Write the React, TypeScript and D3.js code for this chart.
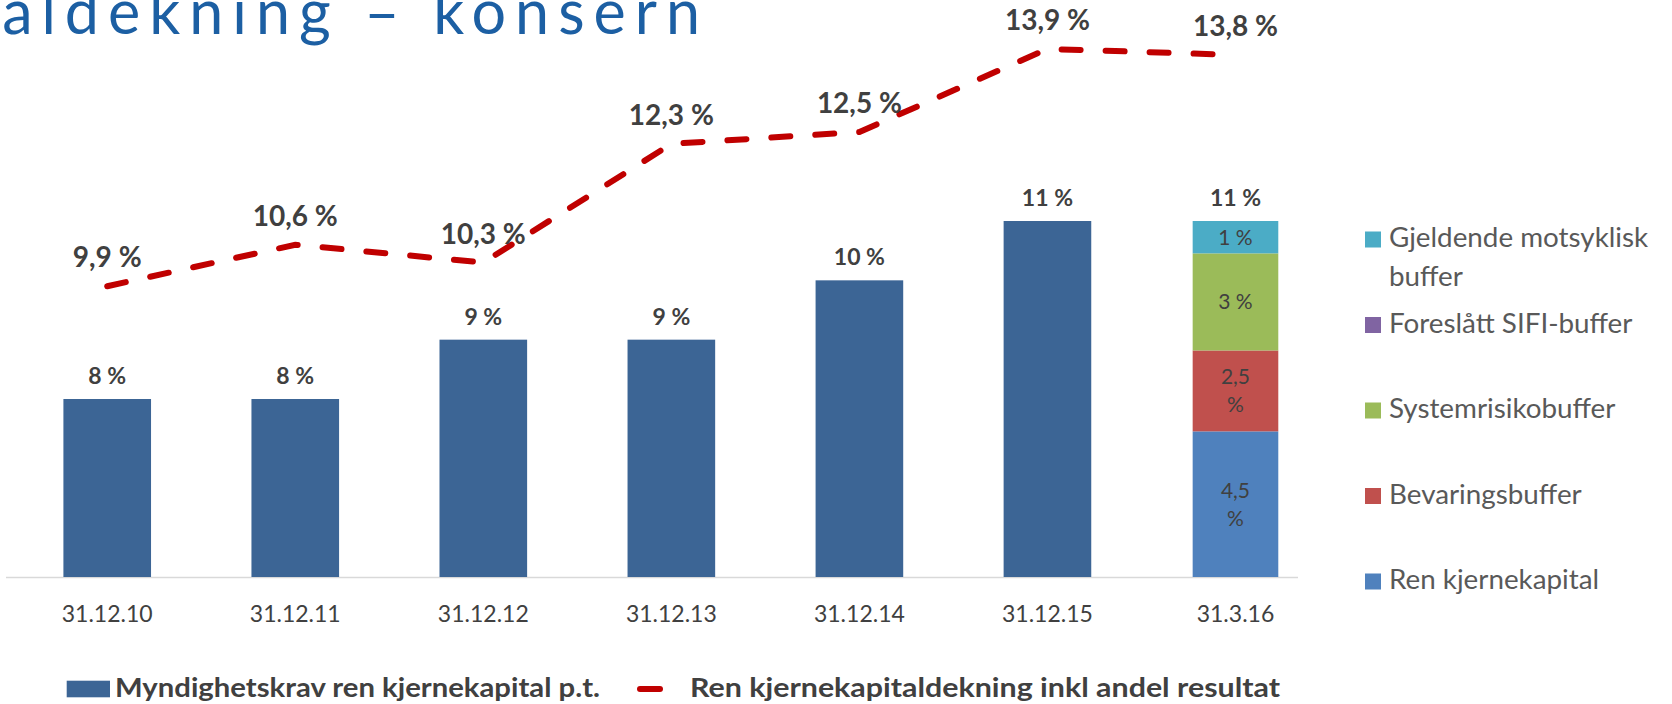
import React from "react";
import * as d3 from "d3";

// ---- Data ----
const categories = ["31.12.10", "31.12.11", "31.12.12", "31.12.13", "31.12.14", "31.12.15", "31.3.16"];
// Myndighetskrav ren kjernekapital p.t. (solid bars, first six periods)
const requirement = [8, 8, 9, 9, 10, 11];
// Ren kjernekapitaldekning inkl andel resultat (dashed line)
const coverage = [9.9, 10.6, 10.3, 12.3, 12.5, 13.9, 13.8];
// Stacked composition for 31.3.16 (bottom to top)
const stackKeys = ["Ren kjernekapital", "Bevaringsbuffer", "Systemrisikobuffer", "Foreslått SIFI-buffer", "Gjeldende motsyklisk buffer"];
const stackValues = [4.5, 2.5, 3, 0, 1];
const stackColors = ["#4F81BD", "#C0504D", "#9BBB59", "#8064A2", "#4BACC6"];
// Right legend order (top to bottom)
const rightLegend = ["Gjeldende motsyklisk buffer", "Foreslått SIFI-buffer", "Systemrisikobuffer", "Bevaringsbuffer", "Ren kjernekapital"];
const seriesNames = ["Myndighetskrav ren kjernekapital p.t.", "Ren kjernekapitaldekning inkl andel resultat"];
const title = "Ren kjernekapitaldekning – konsern";

const W = 1672;
const H = 704;
const FONT = "Lato, 'Open Sans', sans-serif";
const BAR_COLOR = "#3C6595";
const LINE_COLOR = "#C00000";
const TEXT_DARK = "#404040";

const fmt = (v: number) => (Number.isInteger(v) ? String(v) : v.toFixed(1).replace(".", ","));

export default function App() {
  const baseY = 577;
  const topY = 221;
  const x = d3.scaleBand<string>().domain(categories).range([13.2, 1329.5]).padding(0);
  const cx = (c: string) => (x(c) as number) + x.bandwidth() / 2;
  const barW = x.bandwidth() * 0.466;
  // main value axis (bars + line) starts at 5 %
  const y = d3.scaleLinear().domain([5, 11]).range([baseY, topY]);
  // stacked column axis is zero-based
  const yS = d3.scaleLinear().domain([0, d3.sum(stackValues)]).range([baseY, topY]);

  const linePts: [number, number][] = coverage.map((v, i) => [cx(categories[i]), y(v)]);
  const lineGen = d3.line().curve(d3.curveLinear);

  const stackCat = categories[categories.length - 1];
  let acc = 0;
  const segs = stackValues.map((v, i) => {
    const s = { key: stackKeys[i], v, y0: acc, y1: acc + v, color: stackColors[i] };
    acc += v;
    return s;
  });
  const stackTotal = d3.sum(stackValues);

  const legendColor = (name: string) => stackColors[stackKeys.indexOf(name)];

  return (
    <svg
      width={W}
      height={H}
      style={{ position: "absolute", left: 0, top: 0, background: "#fff" }}
      fontFamily={FONT}
    >
      {/* Title (clipped at the left edge, as in the source slide) */}
      <text
        x={709}
        y={34}
        textAnchor="end"
        fontSize={61}
        fill="#1C5FA3"
        letterSpacing={9}
      >
        {title}
      </text>

      {/* axis line */}
      <line x1={6} x2={1298} y1={baseY + 0.5} y2={baseY + 0.5} stroke="#D9D9D9" strokeWidth={1.5} />

      {/* solid bars */}
      {requirement.map((v, i) => {
        const c = categories[i];
        return (
          <g key={c}>
            <rect x={cx(c) - barW / 2} y={y(v)} width={barW} height={baseY - y(v)} fill={BAR_COLOR} />
            <text x={cx(c)} y={y(v) - 15} textAnchor="middle" fontSize={23} fontWeight={700} fill={TEXT_DARK}>
              {fmt(v)} %
            </text>
          </g>
        );
      })}

      {/* stacked bar */}
      {segs.filter((s) => s.v > 0).map((s) => {
        const top = yS(s.y1);
        const bot = yS(s.y0);
        const mid = (top + bot) / 2;
        const twoLine = !Number.isInteger(s.v);
        return (
          <g key={s.key}>
            <rect x={cx(stackCat) - barW / 2 + 1} y={top} width={barW - 2} height={bot - top} fill={s.color} />
            {twoLine ? (
              <text textAnchor="middle" fontSize={21} fill={TEXT_DARK}>
                <tspan x={cx(stackCat)} y={mid - 6.5}>{fmt(s.v)}</tspan>
                <tspan x={cx(stackCat)} y={mid + 21.5}>%</tspan>
              </text>
            ) : (
              <text x={cx(stackCat)} y={mid + 7.5} textAnchor="middle" fontSize={21} fill={TEXT_DARK}>
                {fmt(s.v)} %
              </text>
            )}
          </g>
        );
      })}
      <text x={cx(stackCat)} y={yS(stackTotal) - 15} textAnchor="middle" fontSize={23} fontWeight={700} fill={TEXT_DARK}>
        {fmt(stackTotal)} %
      </text>

      {/* dashed line */}
      <path
        d={lineGen(linePts) || ""}
        fill="none"
        stroke={LINE_COLOR}
        strokeWidth={6}
        strokeLinecap="round"
        strokeDasharray="19 25"
      />
      {coverage.map((v, i) => (
        <text
          key={"l" + i}
          x={cx(categories[i])}
          y={y(v) - 19}
          textAnchor="middle"
          fontSize={28}
          fontWeight={700}
          fill={TEXT_DARK}
        >
          {fmt(v)} %
        </text>
      ))}

      {/* category labels */}
      {categories.map((c) => (
        <text key={"c" + c} x={cx(c)} y={621.5} textAnchor="middle" fontSize={23} fill={TEXT_DARK}>
          {c}
        </text>
      ))}

      {/* right legend */}
      {rightLegend.map((name, i) => {
        const yc = 239.5 + i * 85.5;
        const words = name === "Gjeldende motsyklisk buffer" ? ["Gjeldende motsyklisk", "buffer"] : [name];
        return (
          <g key={name}>
            <rect x={1365} y={yc - 8} width={16} height={16} fill={legendColor(name)} />
            <text fontSize={27.8} fill="#595959">
              {words.map((w, k) => (
                <tspan key={k} x={1389} y={yc + 7.5 + k * 38.5}>
                  {w}
                </tspan>
              ))}
            </text>
          </g>
        );
      })}

      {/* bottom legend */}
      <rect x={66.7} y={680.7} width={43.3} height={16.6} fill={BAR_COLOR} />
      <text x={115} y={697} fontSize={27} fontWeight={700} fill={TEXT_DARK} textLength={485} lengthAdjust="spacingAndGlyphs">
        {seriesNames[0]}
      </text>
      <line x1={640} x2={660} y1={689} y2={689} stroke={LINE_COLOR} strokeWidth={6} strokeLinecap="round" />
      <text x={690} y={697} fontSize={27} fontWeight={700} fill={TEXT_DARK} textLength={590} lengthAdjust="spacingAndGlyphs">
        {seriesNames[1]}
      </text>
    </svg>
  );
}
